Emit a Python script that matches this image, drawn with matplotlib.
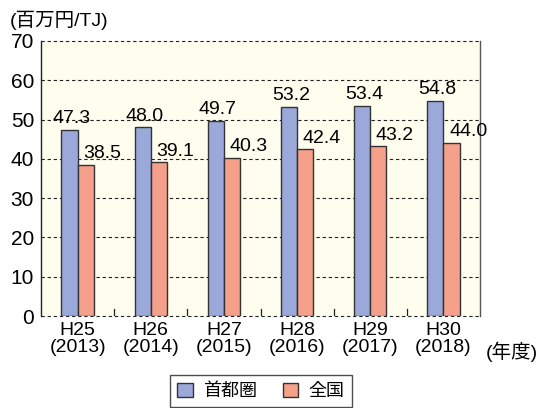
import matplotlib
matplotlib.use("Agg")
import matplotlib.pyplot as plt
import numpy as np
from matplotlib.patches import Patch

plt.rcParams['font.family'] = ['Liberation Sans', 'Noto Sans CJK JP', 'DejaVu Sans']

years_h = ["H25", "H26", "H27", "H28", "H29", "H30"]
years_ad = ["(2013)", "(2014)", "(2015)", "(2016)", "(2017)", "(2018)"]
shutoken = [47.3, 48.0, 49.7, 53.2, 53.4, 54.8]
zenkoku = [38.5, 39.1, 40.3, 42.4, 43.2, 44.0]
series_names = ["首都圏", "全国"]
yticks = [0, 10, 20, 30, 40, 50, 60, 70]

c_blue = "#9AA9D9"
c_red = "#F4A08A"
edge = "#333333"
cjk = ['Noto Sans CJK JP', 'DejaVu Sans']

fig = plt.figure(figsize=(5.4, 4.08), dpi=100)
ax = fig.add_axes([41/540, 1-316/408, (480-41)/540, (316-41)/408])
ax.set_facecolor("#FFFDEE")

x = np.arange(len(years_h))
w = 0.22
ax.bar(x - w/2, shutoken, w, color=c_blue, edgecolor=edge, linewidth=1.0, zorder=3)
ax.bar(x + w/2, zenkoku, w, color=c_red, edgecolor=edge, linewidth=1.0, zorder=3)

for xi, v in zip(x, shutoken):
    ax.annotate(f"{v:.1f}", (xi - w/2, v), xytext=(1.5, 2), textcoords="offset points",
                ha="center", va="bottom", fontsize=14, zorder=4)
for xi, v in zip(x, zenkoku):
    ax.annotate(f"{v:.1f}", (xi + w/2, v), xytext=(12, 2), textcoords="offset points",
                ha="center", va="bottom", fontsize=14, zorder=4)

ax.set_xlim(-0.5, len(x) - 0.5)
ax.set_ylim(0, 70)
ax.set_yticks(yticks)
ax.set_yticklabels([str(t) for t in yticks], fontsize=15)
for t in yticks:
    ax.axhline(t, color="#222222", linestyle=(0, (3, 2.5)), linewidth=0.8, zorder=2, clip_on=False)

ax.set_xticks(x)
ax.set_xticklabels([f"{h}\n{a}" for h, a in zip(years_h, years_ad)], fontsize=14,
                   linespacing=1.05)
ax.tick_params(axis="x", length=0, pad=4)
ax.tick_params(axis="y", length=0, pad=5)

for b in np.arange(0.5, len(x) - 0.5, 1.0):
    ax.plot([b, b], [0, 1.8], color="#222222", linewidth=0.9, zorder=2)

for s in ["top", "bottom"]:
    ax.spines[s].set_visible(False)
ax.spines["left"].set_color("#222222")
ax.spines["left"].set_linewidth(1.0)
ax.spines["right"].set_color("#555555")
ax.spines["right"].set_linewidth(1.0)

fig.text(10/540, 1-20/408, "(百万円/TJ)", fontsize=14, ha="left", va="center")
fig.text(538/540, 1-352/408, "(年度)", fontsize=14, ha="right", va="center")

handles = [Patch(facecolor=c_blue, edgecolor=edge, linewidth=1.0),
           Patch(facecolor=c_red, edgecolor=edge, linewidth=1.0)]
leg = fig.legend(handles, series_names, loc="upper center", bbox_to_anchor=(261/540, 1-375/408),
                 ncol=2, frameon=True, fancybox=False, edgecolor="#222222",
                 prop={'family': cjk, 'size': 13},
                 handlelength=0.85, handleheight=0.85, columnspacing=1.4, handletextpad=0.6,
                 borderpad=0.4, borderaxespad=0)
leg.get_frame().set_linewidth(1.0)

fig.savefig("out.png", dpi=100)
